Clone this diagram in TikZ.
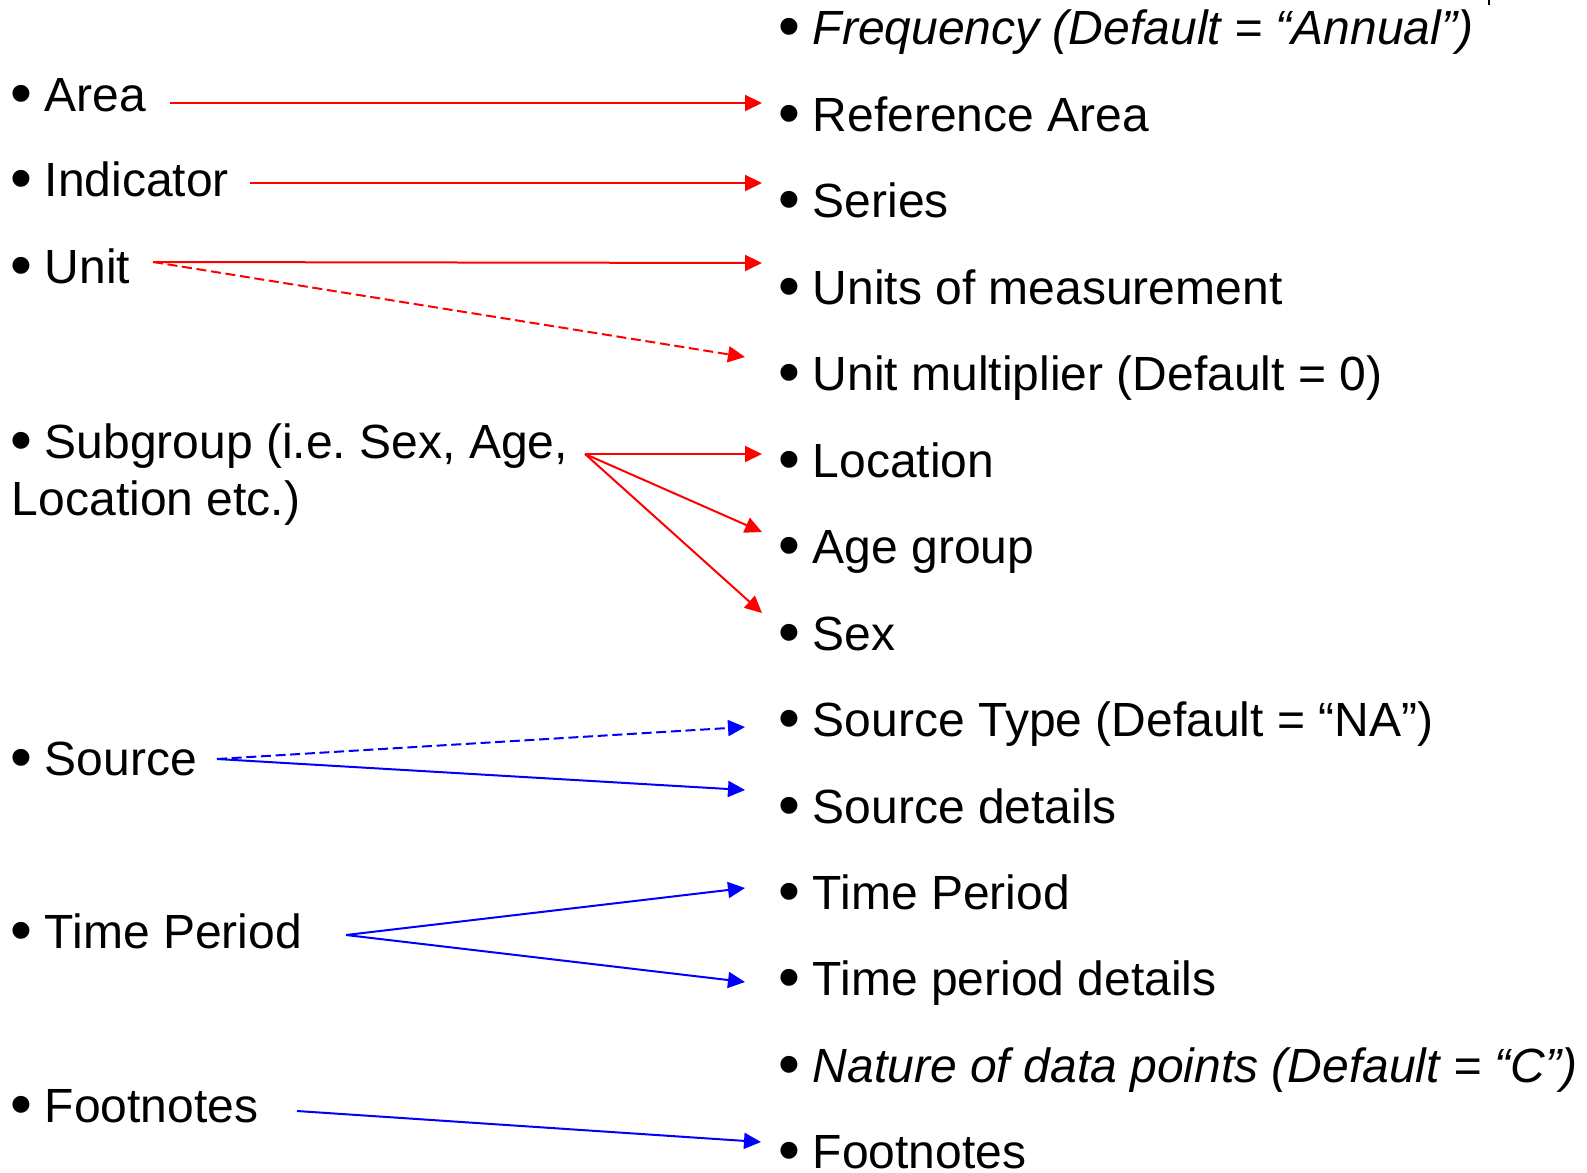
\documentclass[tikz,border=0pt]{standalone}
\usepackage{fontspec}
\setmainfont{Liberation Sans}
\usetikzlibrary{arrows.meta,calc}
\frenchspacing
\newcommand{\bul}{\makebox[25.8pt][l]{\raisebox{-2.25pt}{\fontsize{46.8pt}{46.8pt}\selectfont •}}}
\begin{document}
\begin{tikzpicture}[x=0.75pt,y=-0.75pt,
  every node/.style={inner sep=0pt,outer sep=0pt,anchor=base west,font=\fontsize{36pt}{43pt}\selectfont\frenchspacing},
  conn/.style={line width=1.5pt,-{Triangle[length=12.75pt,width=12pt]}},
  redc/.style={conn,draw={rgb,255:red,255;green,0;blue,0}},
  bluec/.style={conn,draw={rgb,255:red,0;green,0;blue,255}},
  dashc/.style={dash pattern=on 7.5pt off 3.5pt}]
\useasboundingbox (0,0) rectangle (1587,1173);
% left column
\node (area) at (10.5,112) {\bul Area};
\node (ind) at (10.5,197) {\bul Indicator};
\node (unit) at (10.5,283) {\bul Unit};
\node (sub) at (10.5,458) {\bul Subgroup (i.e. Sex, Age,};
\node (sub2) at (12,515) {Location etc.)};
\node (src) at (10.5,775) {\bul Source};
\node (tp) at (10.5,948) {\bul Time Period};
\node (fn) at (10.5,1122) {\bul Footnotes};
% right column
\node (freq) at (778.5,45) {\bul\textit{Frequency (Default = “Annual”)}};
\node (ref) at (778.5,131.45) {\bul Reference Area};
\node (ser) at (778.5,217.9) {\bul Series};
\node (uom) at (778.5,304.35) {\bul Units of measurement};
\node (umul) at (778.5,390.8) {\bul Unit multiplier (Default = 0)};
\node (loc) at (778.5,477.25) {\bul Location};
\node (age) at (778.5,563.7) {\bul Age group};
\node (sex) at (778.5,650.15) {\bul Sex};
\node (stype) at (778.5,736.6) {\bul Source Type (Default = “NA”)};
\node (sdet) at (778.5,823.05) {\bul Source details};
\node (tper) at (778.5,909.5) {\bul Time Period};
\node (tpd) at (778.5,995.95) {\bul Time period details};
\node (nat) at (778.5,1082.4) {\bul\textit{Nature of data points (Default = “C”)}};
\node (fnr) at (778.5,1168.85) {\bul Footnotes};
% connectors
\draw[redc] ($(area.base west)+(159.5,-9)$) -- ($(ref.base west)+(-16.5,-28.45)$);
\draw[redc] ($(ind.base west)+(239.5,-14)$) -- ($(ser.base west)+(-16.5,-34.9)$);
\draw[redc] ($(unit.base west)+(142.5,-21)$) -- ($(uom.base west)+(-16.5,-41.35)$);
\draw[redc,dashc] ($(unit.base west)+(142.5,-21)$) -- ($(umul.base west)+(-33.5,-33.8)$);
\draw[redc] ($(sub.base west)+(574.5,-4)$) -- ($(loc.base west)+(-16.5,-23.25)$);
\draw[redc] ($(sub.base west)+(574.5,-4)$) -- ($(age.base west)+(-16.5,-31.7)$);
\draw[redc] ($(sub.base west)+(574.5,-4)$) -- ($(sex.base west)+(-16.5,-37.15)$);
\draw[bluec,dashc] ($(src.base west)+(206.5,-16)$) -- ($(stype.base west)+(-33.5,-9.6)$);
\draw[bluec] ($(src.base west)+(206.5,-16)$) -- ($(sdet.base west)+(-33.5,-33.05)$);
\draw[bluec] ($(tp.base west)+(335.5,-13)$) -- ($(tper.base west)+(-33.5,-21.5)$);
\draw[bluec] ($(tp.base west)+(335.5,-13)$) -- ($(tpd.base west)+(-33.5,-13.95)$);
\draw[bluec] ($(fn.base west)+(286.5,-11)$) -- ($(fnr.base west)+(-17.5,-26.85)$);
% small mark at top
\draw[line width=1.5pt] (1489,0) -- (1489,5);
\end{tikzpicture}
\end{document}
